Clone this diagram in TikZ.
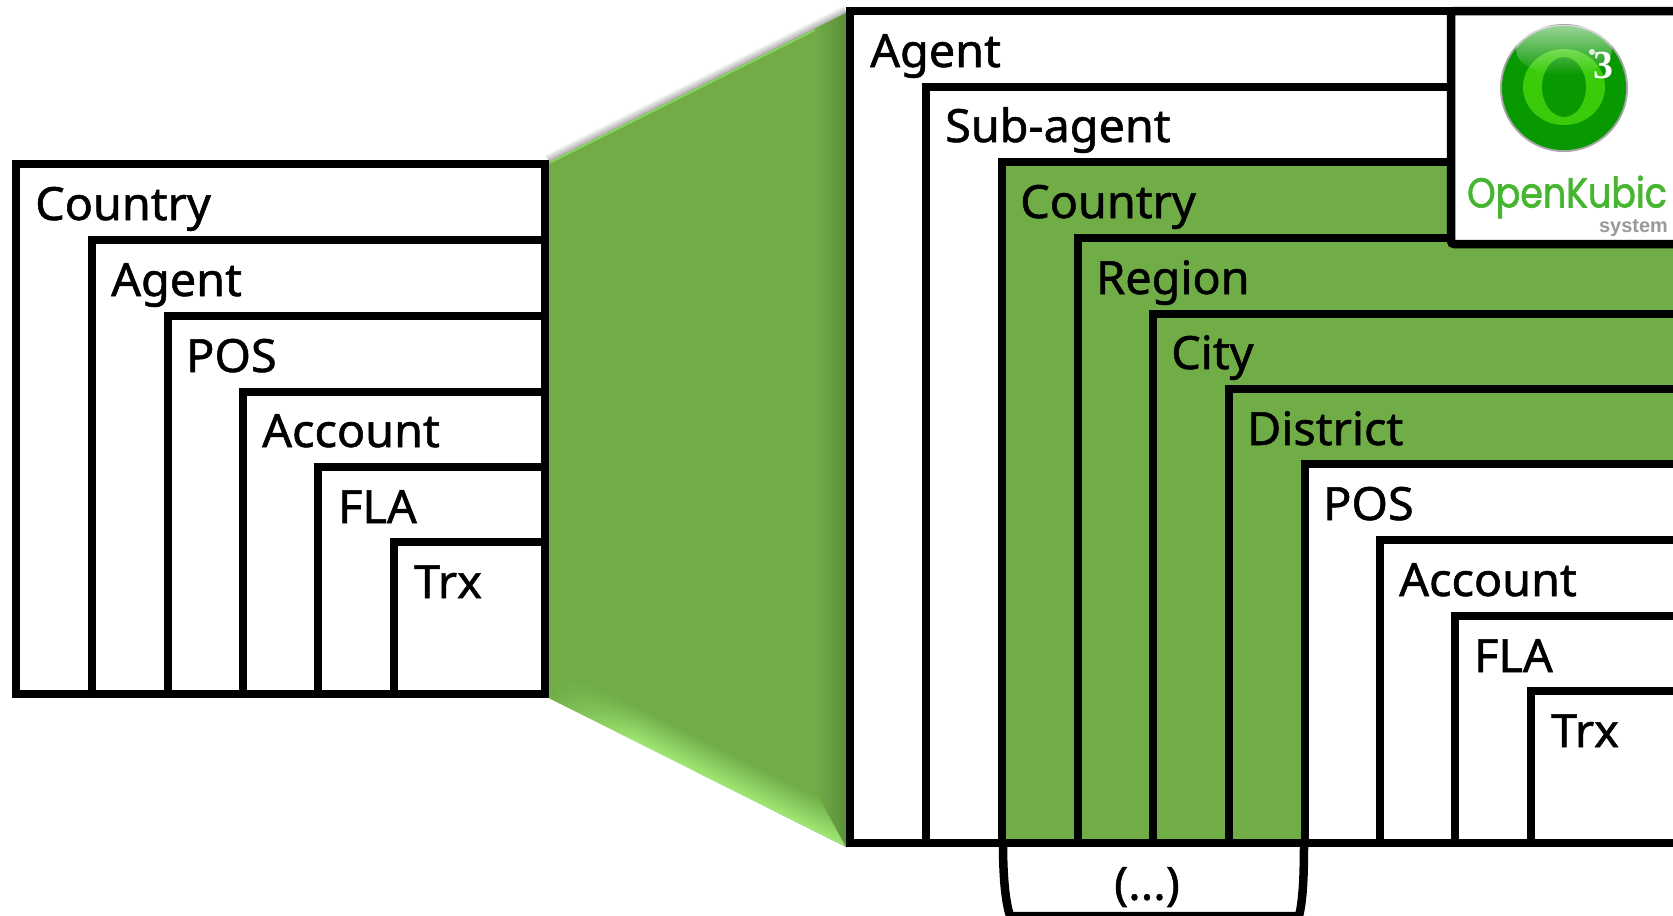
\documentclass[tikz,border=0pt]{standalone}
\usepackage{fontspec}
\setmainfont{Noto Sans}[FakeStretch=1.02,RawFeature={embolden=1.2}]
\newfontfamily\logofont{Poppins}[FakeStretch=0.87,RawFeature={embolden=1.5}]
\newfontfamily\sysfont{Liberation Sans}
\newfontfamily\numfont{Liberation Serif}
\usetikzlibrary{fadings}
\definecolor{boxgreen}{RGB}{112,173,71}
\definecolor{edgegreen}{RGB}{158,232,116}
\definecolor{sidegreen}{RGB}{92,143,58}
\definecolor{balldark}{RGB}{8,152,0}
\definecolor{ballring}{RGB}{58,204,10}
\definecolor{logogreen}{RGB}{70,182,48}
\tikzset{
  whitebox/.style={draw=black,line width=8.5bp,fill=white,miter limit=10},
  greenbox/.style={draw=black,line width=8.5bp,fill=boxgreen},
  boxlabel/.style={anchor=base west,inner sep=0pt,font=\fontsize{46}{50}\selectfont}
}
\begin{document}
\begin{tikzpicture}

\clip (0bp,0bp) rectangle (1673bp,-916bp);

\shade [top color=white,bottom color=black!35,transform canvas={shift={(549bp,-162bp)},rotate=26.6}] (0bp,0bp) rectangle (333bp,9bp);
\fill [boxgreen] (549bp,-162bp) -- (846bp,-13bp) -- (846bp,-847bp) -- (549bp,-698bp) -- cycle;
\begin{scope}
\clip (549bp,-162bp) -- (846bp,-13bp) -- (846bp,-847bp) -- (549bp,-698bp) -- cycle;
\shade [top color=boxgreen,bottom color=edgegreen,transform canvas={shift={(549bp,-698bp)},rotate=-26.6}] (0bp,0bp) rectangle (340bp,32bp);
\fill [boxgreen,path fading=east,transform canvas={shift={(549bp,-698bp)},rotate=-26.6}] (-1bp,0bp) rectangle (90bp,34bp);
\fill [edgegreen!60!boxgreen,transform canvas={shift={(549bp,-162bp)},rotate=26.6}] (0bp,-2bp) rectangle (333bp,0bp);
\clip (846bp,-13bp) -- (846bp,-847bp) -- (815bp,-790bp) -- (815bp,-28bp) -- cycle;
\shade [left color=boxgreen,right color=sidegreen] (815bp,-13bp) rectangle (846bp,-847bp);
\end{scope}

\draw [whitebox] (16bp,-164bp) rectangle (545bp,-694bp);
\draw [whitebox] (92bp,-240bp) rectangle (545bp,-694bp);
\draw [whitebox] (168bp,-316bp) rectangle (545bp,-694bp);
\draw [whitebox] (243bp,-392bp) rectangle (545bp,-694bp);
\draw [whitebox] (318bp,-467bp) rectangle (545bp,-694bp);
\draw [whitebox] (394bp,-542bp) rectangle (545bp,-694bp);

\node (LeftCountry) at (35bp,-220bp)[boxlabel] {Country};
\node (LeftAgent) at (111bp,-296bp)[boxlabel] {Agent};
\node (LeftPOS) at (186bp,-372bp)[boxlabel] {POS};
\node (LeftAccount) at (262bp,-447bp)[boxlabel] {Account};
\node (LeftFLA) at (338bp,-523bp)[boxlabel] {FLA};
\node (LeftTrx) at (414bp,-598bp)[boxlabel] {Trx};

\draw [whitebox] (1003bp,-843bp) .. controls (1003bp,-875bp) and (1005bp,-900bp) .. (1010bp,-916bp) -- (1299bp,-916bp) .. controls (1303bp,-900bp) and (1304bp,-875bp) .. (1304bp,-843bp);
\node (Dots) at (1147bp,-887bp)[boxlabel,anchor=center] {(...)};

\draw [whitebox] (850bp,-11bp) rectangle (1700bp,-843bp);
\draw [whitebox] (926bp,-87bp) rectangle (1700bp,-843bp);
\draw [greenbox] (1002bp,-162bp) rectangle (1700bp,-843bp);
\draw [greenbox] (1078bp,-238bp) rectangle (1700bp,-843bp);
\draw [greenbox] (1153bp,-314bp) rectangle (1700bp,-843bp);
\draw [greenbox] (1229bp,-389bp) rectangle (1700bp,-843bp);
\draw [whitebox] (1305bp,-464bp) rectangle (1700bp,-843bp);
\draw [whitebox] (1380bp,-540bp) rectangle (1700bp,-843bp);
\draw [whitebox] (1455bp,-616bp) rectangle (1700bp,-843bp);
\draw [whitebox] (1531bp,-691bp) rectangle (1700bp,-843bp);

\node (RightAgent) at (870bp,-67bp)[boxlabel] {Agent};
\node (RightSubagent) at (945bp,-142bp)[boxlabel] {Sub-agent};
\node (RightCountry) at (1020bp,-218bp)[boxlabel] {Country};
\node (RightRegion) at (1096bp,-294bp)[boxlabel] {Region};
\node (RightCity) at (1171bp,-369bp)[boxlabel] {City};
\node (RightDistrict) at (1247bp,-445bp)[boxlabel] {District};
\node (RightPOS) at (1323bp,-520bp)[boxlabel] {POS};
\node (RightAccount) at (1399bp,-596bp)[boxlabel] {Account};
\node (RightFLA) at (1474bp,-672bp)[boxlabel] {FLA};
\node (RightTrx) at (1551bp,-747bp)[boxlabel] {Trx};

\draw [whitebox,rounded corners=3bp] (1451bp,-11bp) rectangle (1700bp,-244bp);
\fill [black!35] (1564bp,-88bp) circle (64bp);
\fill [balldark] (1564bp,-88bp) circle (62bp);
\fill [ballring,even odd rule] (1564bp,-87bp) ellipse (41bp and 38bp) (1564bp,-87bp) ellipse (22bp and 30bp);
\fill [white,opacity=.6,path fading=south] (1564bp,-50bp) ellipse (48bp and 25bp);
\fill [white,opacity=.8] (1592bp,-52bp) circle (3bp);
\node (LogoThree) at (1603bp,-66bp)[inner sep=0pt,text=white,font=\numfont\bfseries\fontsize{40}{40}\selectfont] {3};
\node (LogoName) at (1567bp,-197bp)[inner sep=0pt,text=logogreen,font=\logofont\fontsize{42}{42}\selectfont] {OpenKubic};
\node (LogoSystem) at (1668bp,-232bp)[anchor=base east,inner sep=0pt,text=black!40,font=\sysfont\bfseries\fontsize{20}{20}\selectfont] {system};
\end{tikzpicture}
\end{document}
